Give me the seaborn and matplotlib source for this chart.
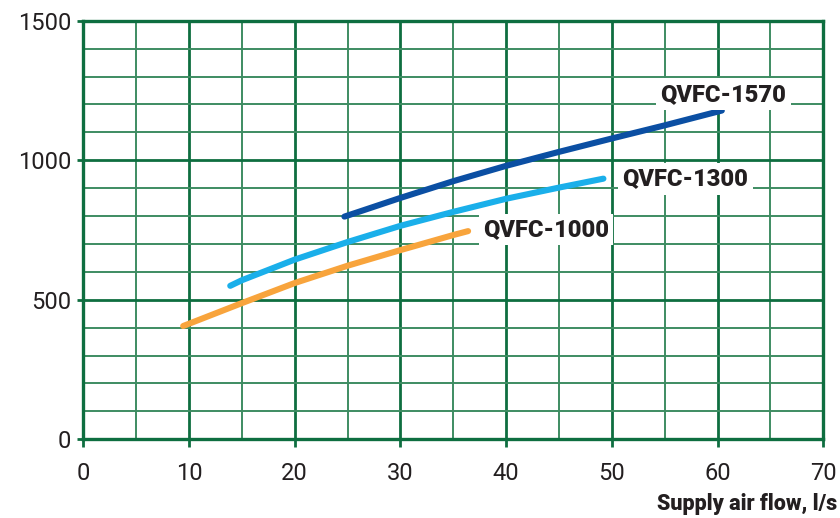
import matplotlib
matplotlib.use("Agg")
import matplotlib.pyplot as plt
import seaborn as sns
import pandas as pd

# flow (l/s) vs value
x_1000 = [9.45, 15, 20, 25, 30, 35, 36.4]
y_1000 = [406, 488, 560, 622, 678, 732, 746]

x_1300 = [13.9, 15, 20, 25, 30, 35, 40, 45, 49.2]
y_1300 = [550, 570, 644, 707, 765, 815, 862, 902, 934]

x_1570 = [24.7, 30, 35, 40, 45, 50, 55, 60.4]
y_1570 = [798, 865, 925, 980, 1030, 1078, 1125, 1178]

models = ["QVFC-1000", "QVFC-1300", "QVFC-1570"]
colors = ["#F8A43C", "#1AAFEA", "#0B4FA3"]
label_pos = [(37.8, 752), (51.0, 933), (54.6, 1237)]

x_ticks = [0, 10, 20, 30, 40, 50, 60, 70]
y_ticks = [0, 500, 1000, 1500]

df = pd.concat([
    pd.DataFrame({"flow": x_1000, "value": y_1000, "model": models[0]}),
    pd.DataFrame({"flow": x_1300, "value": y_1300, "model": models[1]}),
    pd.DataFrame({"flow": x_1570, "value": y_1570, "model": models[2]}),
])

sns.set_style("white")
plt.rcParams["font.family"] = ["Roboto", "DejaVu Sans"]

green = "#0E6E40"
green_light = "#3E8C62"
ink = "#231F20"

fig = plt.figure(figsize=(8.4, 5.18), dpi=100)
ax = fig.add_axes([83.3 / 840, 1 - 439.3 / 518, 740 / 840, 418.6 / 518])

sns.lineplot(data=df, x="flow", y="value", hue="model", palette=dict(zip(models, colors)),
             sort=False, estimator=None, legend=False, linewidth=4.4,
             solid_capstyle="round", ax=ax, zorder=3)

ax.set_xlim(0, 70)
ax.set_ylim(0, 1500)
ax.set_xticks(x_ticks)
ax.set_yticks(y_ticks)
ax.set_xticks(range(0, 71, 5), minor=True)
ax.set_yticks(range(0, 1501, 100), minor=True)

ax.grid(which="major", color=green, linewidth=2.0, zorder=1)
ax.grid(which="minor", color=green_light, linewidth=1.4, zorder=1)
ax.set_axisbelow(True)

for s in ax.spines.values():
    s.set_color(green)
    s.set_linewidth(2.4)

ax.tick_params(which="major", direction="out", width=2, color=green,
               bottom=True, left=True, labelsize=17, labelcolor=ink)
ax.tick_params(axis="x", which="major", length=6, pad=10)
ax.tick_params(axis="y", which="major", length=4.5, pad=4)
ax.tick_params(which="minor", length=0)

ax.set_xlabel("")
ax.set_ylabel("")

for name, (tx, ty) in zip(models, label_pos):
    ax.text(tx, ty, name, fontsize=17, fontweight="black", color=ink,
            va="center", ha="left", zorder=4,
            bbox=dict(facecolor="white", edgecolor="none", pad=3))

fig.text(837 / 840, 1 - 504 / 518, "Supply air flow, l/s", ha="right", va="center",
         fontsize=15.5, fontweight="black", color=ink)

fig.savefig("out.png", dpi=100)
